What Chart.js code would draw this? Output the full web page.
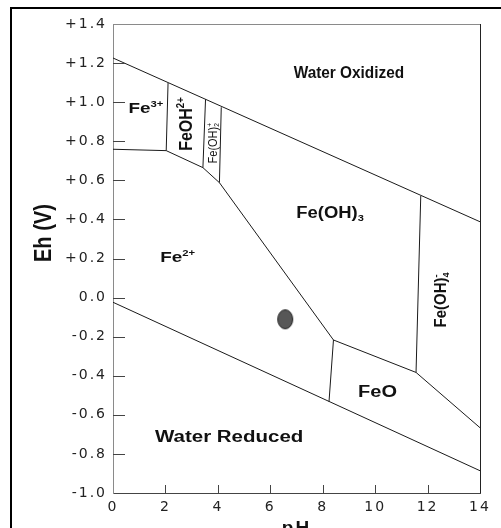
<!DOCTYPE html>
<html>
<head>
<meta charset="utf-8">
<script src="https://cdn.jsdelivr.net/npm/chart.js@4.4.0/dist/chart.umd.min.js"></script>
<style>
  html, body { margin: 0; padding: 0; overflow: hidden; background: #fff; }
  #wrap { position: relative; width: 501px; height: 528px; overflow: hidden; }
  #wrap canvas { position: absolute; left: 0; top: 0; }
  #frame { position: absolute; left: 10px; top: 7px; width: 600px; height: 600px; border: 2px solid #000; }
</style>
</head>
<body>
<div id="wrap">
  <canvas id="chart" width="501" height="550"></canvas>
  <div id="frame"></div>
</div>
<script>
// axis ticks
const pHTicks = [0, 2, 4, 6, 8, 10, 12, 14];
const ehTicks = [-1.0, -0.8, -0.6, -0.4, -0.2, 0.0, 0.2, 0.4, 0.6, 0.8, 1.0, 1.2, 1.4];
const ehTickLabels = ['-1.0', '-0.8', '-0.6', '-0.4', '-0.2', '0.0', '+0.2', '+0.4', '+0.6', '+0.8', '+1.0', '+1.2', '+1.4'];

// stability field boundaries, [pH, Eh] end points
const waterOxidized = [[0, 1.226], [14, 0.388]];
const waterReduced = [[0, -0.024], [14, -0.886]];
const fe3Fe2 = [[0, 0.759], [2.03, 0.752]];
const fe3FeOH = [[2.1, 1.098], [2.03, 0.752]];
const feOHFe2 = [[2.03, 0.752], [3.43, 0.665]];
const feOHFeOH2 = [[3.53, 1.015], [3.43, 0.665]];
const feOH2Fe2 = [[3.43, 0.665], [4.06, 0.588]];
const feOH2FeOH3 = [[4.13, 0.974], [4.06, 0.588]];
const feOH3Fe2 = [[4.06, 0.588], [8.41, -0.217]];
const fe2FeO = [[8.41, -0.217], [8.24, -0.533]];
const feOH3FeO = [[8.41, -0.217], [11.56, -0.383]];
const feOH3FeOH4 = [[11.74, 0.520], [11.56, -0.383]];
const feOFeOH4 = [[11.56, -0.383], [14, -0.666]];

// measured sample
const samplePoint = [[6.57, -0.111]];

const boundaries = [waterOxidized, waterReduced, fe3Fe2, fe3FeOH, feOHFe2, feOHFeOH2,
  feOH2Fe2, feOH2FeOH3, feOH3Fe2, fe2FeO, feOH3FeO, feOH3FeOH4, feOFeOH4];

// field names: [text, kind, second text]
const fieldLabels = [
  { parts: [['Water Oxidized']], at: [9.0, 1.152], size: 16, sx: 0.96, bold: true },
  { parts: [['Fe'], ['3+', 'sup']], at: [0.59, 0.970], size: 14, sx: 1.35, bold: true, align: 'left' },
  { parts: [['FeOH'], ['2+', 'sup']], at: [2.75, 0.888], size: 16, sy: 1.2, bold: true, rot: true },
  { parts: [['Fe(OH)'], ['+', 'both', '2']], at: [3.8, 0.79], size: 11, sy: 1.1, rot: true },
  { parts: [['Fe(OH)'], ['3', 'sub']], at: [8.28, 0.438], size: 16, sx: 1.15, bold: true },
  { parts: [['Fe'], ['2+', 'sup']], at: [1.8, 0.209], size: 14, sx: 1.35, bold: true, align: 'left' },
  { parts: [['Fe(OH)'], ['-', 'both', '4']], at: [12.48, -0.012], size: 15, sy: 1.1, bold: true, rot: true },
  { parts: [['FeO']], at: [10.09, -0.478], size: 16, sx: 1.25, bold: true },
  { parts: [['Water Reduced']], at: [4.43, -0.708], size: 16, sx: 1.28, bold: true }
];

const fam = '"Liberation Sans", Arial, sans-serif';

const toXY = pts => pts.map(([x, y]) => ({ x, y }));

// grey ellipse marker for the sample
const dot = document.createElement('canvas');
dot.width = 18; dot.height = 22;
const dctx = dot.getContext('2d');
dctx.beginPath();
dctx.ellipse(9, 11, 7.5, 9.5, 0, 0, Math.PI * 2);
dctx.fillStyle = '#575757';
dctx.fill();
dctx.lineWidth = 1;
dctx.strokeStyle = '#222';
dctx.stroke();

function drawRich(ctx, lab, px, py) {
  const size = lab.size;
  const f = s => (lab.bold ? 'bold ' : '') + s + 'px ' + fam;
  let w = 0;
  const pieces = lab.parts.map(([t, k, t2]) => {
    ctx.font = f(k ? size * 0.6 : size);
    let pw = ctx.measureText(t).width;
    if (k === 'both') pw = Math.max(pw, ctx.measureText(t2).width);
    w += pw;
    return { t, k, t2, pw };
  });
  ctx.save();
  ctx.translate(px, py);
  if (lab.rot) ctx.rotate(-Math.PI / 2);
  ctx.scale(lab.sx || 1, lab.sy || 1);
  ctx.textAlign = 'left';
  ctx.textBaseline = 'alphabetic';
  ctx.fillStyle = '#111';
  let x = lab.align === 'left' ? 0 : -w / 2;
  const base = size * 0.36;
  pieces.forEach(p => {
    if (!p.k) {
      ctx.font = f(size);
      ctx.fillText(p.t, x, base);
    } else {
      ctx.font = f(size * 0.6);
      if (p.k === 'sup' || p.k === 'both') ctx.fillText(p.t, x, base - size * 0.42);
      if (p.k === 'sub') ctx.fillText(p.t, x, base + size * 0.18);
      if (p.k === 'both') ctx.fillText(p.t2, x, base + size * 0.18);
    }
    x += p.pw;
  });
  ctx.restore();
}

const diagramExtras = {
  id: 'diagramExtras',
  beforeDraw(chart) {
    chart.ctx.letterSpacing = '2px';
  },
  afterDatasetsDraw(chart) {
    const ctx = chart.ctx;
    const xs = chart.scales.x, ys = chart.scales.y;
    const a = chart.chartArea;
    ctx.save();
    ctx.letterSpacing = '0px';
    // frame top and right
    ctx.lineWidth = 1;
    ctx.strokeStyle = '#8a8a8a';
    ctx.beginPath();
    ctx.moveTo(a.left, a.top + 0.5);
    ctx.lineTo(a.right, a.top + 0.5);
    ctx.stroke();
    ctx.strokeStyle = '#222';
    ctx.beginPath();
    ctx.moveTo(a.right + 0.5, a.top);
    ctx.lineTo(a.right + 0.5, a.bottom);
    ctx.stroke();
    // inward tick marks
    ctx.strokeStyle = '#444';
    ehTicks.slice(1, -1).forEach(v => {
      const y = Math.round(ys.getPixelForValue(v)) + 0.5;
      ctx.beginPath();
      ctx.moveTo(a.left, y);
      ctx.lineTo(a.left + 12, y);
      ctx.stroke();
    });
    pHTicks.slice(1, -1).forEach(v => {
      const x = Math.round(xs.getPixelForValue(v)) + 0.5;
      ctx.beginPath();
      ctx.moveTo(x, a.bottom);
      ctx.lineTo(x, a.bottom - 8);
      ctx.stroke();
    });
    // field names
    fieldLabels.forEach(lab => {
      drawRich(ctx, lab, xs.getPixelForValue(lab.at[0]), ys.getPixelForValue(lab.at[1]));
    });
    // y axis title
    drawRich(ctx, { parts: [['Eh (V)']], size: 20, sy: 1.15, bold: true, rot: true },
      a.left - 70, ys.getPixelForValue(0.33));
    ctx.restore();
  },
  afterDraw(chart) {
    chart.ctx.letterSpacing = '0px';
  }
};

const datasets = boundaries.map(b => ({
  data: toXY(b),
  showLine: true,
  borderColor: '#1a1a1a',
  borderWidth: 1,
  pointRadius: 0
}));
datasets.push({
  data: toXY(samplePoint),
  showLine: false,
  pointStyle: dot,
  pointRadius: 9
});

new Chart(document.getElementById('chart'), {
  type: 'scatter',
  data: { datasets },
  plugins: [diagramExtras],
  options: {
    responsive: false,
    animation: false,
    devicePixelRatio: 1,
    layout: { padding: { left: 0, top: 24, right: 21, bottom: 0 } },
    plugins: { legend: { display: false }, tooltip: { enabled: false } },
    scales: {
      x: {
        type: 'linear',
        min: 0,
        max: 14,
        afterBuildTicks: s => { s.ticks = pHTicks.map(v => ({ value: v })); },
        afterFit: s => { s.height = 57; },
        grid: { drawOnChartArea: false, drawTicks: false },
        border: { color: '#444', width: 1 },
        ticks: {
          padding: 6,
          color: '#222',
          font: { family: '"DejaVu Sans"', size: 14 },
          callback: v => String(v)
        },
        title: {
          display: true,
          text: 'pH',
          color: '#111',
          font: { family: fam, size: 19, weight: 'bold' },
          padding: { top: 0, bottom: 10 }
        }
      },
      y: {
        type: 'linear',
        min: -1.0,
        max: 1.4,
        afterBuildTicks: s => { s.ticks = ehTicks.map(v => ({ value: v })); },
        afterFit: s => { s.width = 113; },
        grid: { drawOnChartArea: false, drawTicks: false },
        border: { color: '#8a8a8a', width: 1 },
        ticks: {
          padding: 6,
          color: '#222',
          font: { family: '"DejaVu Sans"', size: 14 },
          callback: (v, i) => ehTickLabels[i]
        }
      }
    }
  }
});
</script>
</body>
</html>
